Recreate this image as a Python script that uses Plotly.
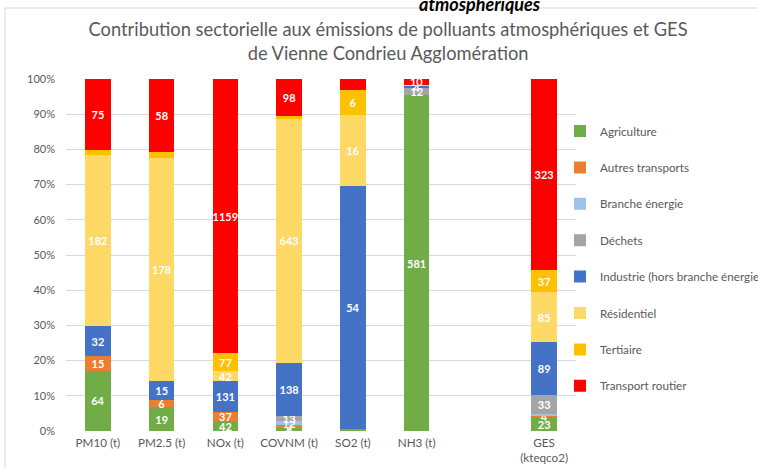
import plotly.graph_objects as go

# Categories on the x axis (the blank one is the empty slot before GES)
categories = ["PM10 (t)", "PM2.5 (t)", "NOx (t)", "COVNM (t)", "SO2 (t)", "NH3 (t)", " ", "GES<br>(kteqco2)"]

sectors = ["Agriculture", "Autres transports", "Branche énergie", "Déchets",
           "Industrie (hors branche énergie)", "Résidentiel", "Tertiaire", "Transport routier"]

# Emissions per sector (None = empty slot)
agriculture = [64, 19, 42, 8, 0.4, 581, None, 23]
autres_transports = [15, 6, 37, 7, 0, 0, None, 4]
branche_energie = [0, 0, 0, 12, 0, 0, None, 1]
dechets = [0, 0, 0, 13, 0, 12, None, 33]
industrie = [32, 15, 131, 138, 54.4, 4, None, 89]
residentiel = [182, 178, 42, 643, 15.8, 2, None, 85]
tertiaire = [5, 5, 77, 5, 5.7, 0, None, 37]
transport_routier = [75, 58, 1159, 98, 2.4, 10, None, 323]

series = [agriculture, autres_transports, branche_energie, dechets,
          industrie, residentiel, tertiaire, transport_routier]

colors = ["#70AD47", "#ED7D31", "#9DC3E6", "#A5A5A5",
          "#4472C4", "#FFD966", "#FFC000", "#FF0000"]

# segments that carry no data label in the original
no_label = {("Tertiaire", "PM10 (t)"), ("Tertiaire", "PM2.5 (t)"), ("Tertiaire", "COVNM (t)"),
            ("Transport routier", "SO2 (t)"), ("Agriculture", "SO2 (t)"),
            ("Résidentiel", "NH3 (t)"), ("Branche énergie", "GES<br>(kteqco2)")}

fig = go.Figure()
for name, vals, col in zip(sectors, series, colors):
    labels = []
    for cat, v in zip(categories, vals):
        if v is None or v == 0 or (name, cat) in no_label:
            labels.append("")
        else:
            labels.append(f"{v:.0f}")
    fig.add_trace(go.Bar(
        name=name,
        x=categories,
        y=vals,
        text=labels,
        textposition="inside",
        insidetextanchor="middle",
        textangle=0,
        textfont=dict(color="white", size=11, family="Lato", weight="bold"),
        marker=dict(color=col, line=dict(width=0)),
        legendgroup=name,
    ))

fig.update_layout(
    width=758,
    height=468,
    barmode="stack",
    barnorm="percent",
    bargap=0.6,
    paper_bgcolor="white",
    plot_bgcolor="white",
    font=dict(family="Lato", color="#595959", size=11),
    margin=dict(l=66, r=182, t=79, b=37, autoexpand=False),
    title=dict(
        text="Contribution sectorielle aux émissions de polluants atmosphériques et GES<br>de Vienne Condrieu Agglomération",
        x=0.512, xanchor="center", xref="container",
        y=0.9236, yanchor="top",
        font=dict(family="Lato", size=18.3, color="#595959"),
    ),
    uniformtext=dict(minsize=11, mode="show"),
    legend=dict(
        x=0.9686, xanchor="left", y=0.8935, yanchor="top",
        traceorder="grouped",
        tracegroupgap=17.4,
        font=dict(size=11.7, color="#595959"),
        bgcolor="rgba(0,0,0,0)",
    ),
    showlegend=True,
)

fig.update_xaxes(
    type="category",
    categoryorder="array",
    categoryarray=categories,
    showgrid=False,
    showline=False,
    ticklabelstandoff=3,
    tickfont=dict(size=11.7, color="#595959"),
)
fig.update_yaxes(
    range=[0, 100],
    dtick=10,
    ticksuffix="%",
    gridcolor="#D9D9D9",
    gridwidth=1,
    zeroline=False,
    showline=False,
    ticklabelstandoff=10,
    tickfont=dict(size=11, color="#595959"),
)

# outer chart frame (partly visible at top and left)
fig.add_shape(type="rect", xref="paper", yref="paper",
              x0=-0.1196, x1=1.5, y0=-0.5, y1=1.2017,
              line=dict(color="#D9D9D9", width=1), fillcolor="rgba(0,0,0,0)", layer="below")

# clipped heading of the page above the chart
fig.add_annotation(text="atmosphériques", xref="paper", yref="paper",
                   x=0.8118, y=1.2131, xanchor="center", yanchor="middle",
                   showarrow=False,
                   font=dict(family="Lato", size=18, color="black", weight="bold", style="italic"))

fig.write_html("out.html", config={"displayModeBar": False},
               post_script="document.body.style.margin='0';")
